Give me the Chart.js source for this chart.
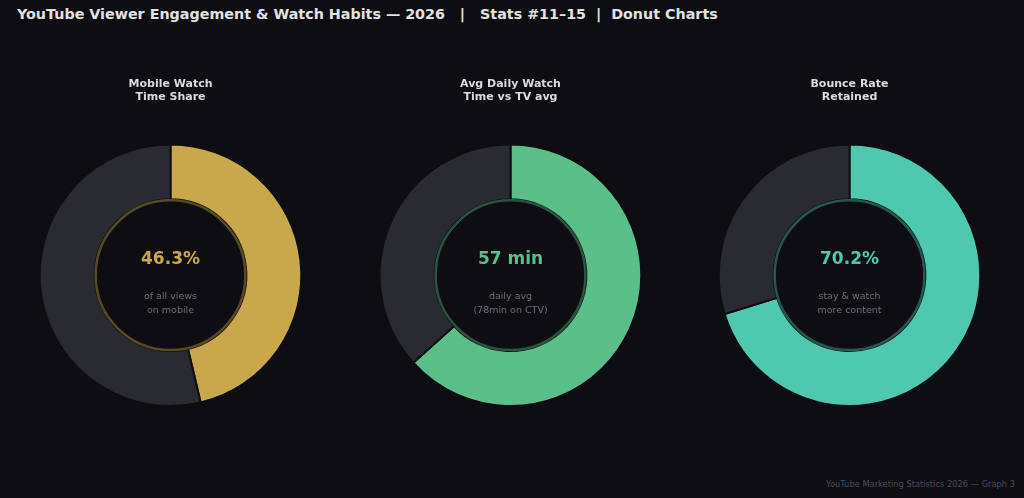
<!DOCTYPE html>
<html lang="en">
<head>
  <meta charset="UTF-8" />
  <title>YouTube Viewer Engagement — Donut Charts</title>
  <script src="https://cdn.jsdelivr.net/npm/chart.js"></script>
  <style>
    html, body { margin: 0; padding: 0; }
    body {
      width: 1024px; height: 498px; overflow: hidden;
      background: #0e0e12; position: relative;
      font-family: "DejaVu Sans", sans-serif;
    }
    #title {
      position: absolute; left: 17px; top: 6px;
      color: #e2e2e2; font-weight: bold; font-size: 14.3px; white-space: pre;
    }
    .cell { position: absolute; top: 60px; width: 341px; height: 360px; }
    #footer {
      position: absolute; right: 9px; top: 479px;
      color: #4c4c5c; font-size: 8.3px;
    }
  </style>
</head>
<body>
  <div id="title">YouTube Viewer Engagement &amp; Watch Habits — 2026   |   Stats #11–15  |  Donut Charts</div>
  <div class="cell" style="left:0px"><canvas id="c0"></canvas></div>
  <div class="cell" style="left:340px"><canvas id="c1"></canvas></div>
  <div class="cell" style="left:679px"><canvas id="c2"></canvas></div>
  <div id="footer">YouTube Marketing Statistics 2026 — Graph 3</div>

  <script>
    // data
    const titles = [['Mobile Watch', 'Time Share'], ['Avg Daily Watch', 'Time vs TV avg'], ['Bounce Rate', 'Retained']];
    const values = [46.3, 57, 70.2];
    const remainders = [53.7, 33, 29.8];
    const centerLabels = ['46.3%', '57 min', '70.2%'];
    const subLabels = [['of all views', 'on mobile'], ['daily avg', '(78min on CTV)'], ['stay & watch', 'more content']];
    const accents = ['#c8a84b', '#5bbf8a', '#4ec9b0'];
    const ringColors = ['rgba(200,168,75,0.4)', 'rgba(91,191,138,0.4)', 'rgba(78,201,176,0.4)'];
    const restColor = '#2a2a33';

    // draws the inner ring + center texts
    const centerText = {
      id: 'centerText',
      afterDraw(chart, args, opts) {
        const arc = chart.getDatasetMeta(0).data[0];
        if (!arc) return;
        const { x, y, innerRadius } = arc.getProps(['x', 'y', 'innerRadius'], true);
        const ctx = chart.ctx;
        ctx.save();
        ctx.beginPath();
        ctx.arc(x, y, innerRadius - 1, 0, Math.PI * 2);
        ctx.strokeStyle = opts.ring;
        ctx.lineWidth = 2.5;
        ctx.stroke();

        ctx.textAlign = 'center';
        ctx.textBaseline = 'middle';
        ctx.fillStyle = opts.color;
        ctx.font = 'bold 17px "DejaVu Sans"';
        ctx.fillText(opts.main, x, y - 16);

        ctx.fillStyle = '#6c6c7c';
        ctx.font = '9.5px "DejaVu Sans"';
        ctx.fillText(opts.sub[0], x, y + 21);
        ctx.fillText(opts.sub[1], x, y + 35);
        ctx.restore();
      }
    };

    titles.forEach((t, i) => {
      new Chart(document.getElementById('c' + i), {
        type: 'doughnut',
        data: {
          labels: ['value', 'rest'],
          datasets: [{
            data: [values[i], remainders[i]],
            backgroundColor: [accents[i], restColor],
            borderColor: '#0e0e12',
            borderWidth: 2
          }]
        },
        options: {
          responsive: true,
          maintainAspectRatio: false,
          animation: false,
          cutout: '58%',
          layout: { padding: { bottom: 13 } },
          plugins: {
            legend: { display: false },
            tooltip: { enabled: false },
            title: {
              display: true,
              text: t,
              color: '#dcdcdc',
              font: { family: 'DejaVu Sans', size: 11, weight: 'bold', lineHeight: 1.2 },
              padding: { top: 17.5, bottom: 39.5 }
            },
            centerText: { main: centerLabels[i], sub: subLabels[i], color: accents[i], ring: ringColors[i] }
          }
        },
        plugins: [centerText]
      });
    });
  </script>
</body>
</html>
